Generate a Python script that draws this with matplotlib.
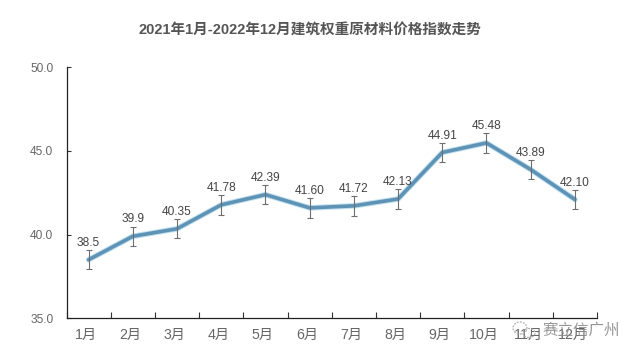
import matplotlib
matplotlib.use("Agg")
import matplotlib.pyplot as plt
from matplotlib.patches import Ellipse
from matplotlib.transforms import ScaledTranslation

plt.rcParams['font.family'] = ['Liberation Sans', 'Noto Sans CJK SC', 'DejaVu Sans']

months = ['1月', '2月', '3月', '4月', '5月', '6月', '7月', '8月', '9月', '10月', '11月', '12月']
values = [38.5, 39.9, 40.35, 41.78, 42.39, 41.60, 41.72, 42.13, 44.91, 45.48, 43.89, 42.10]
value_labels = ['38.5', '39.9', '40.35', '41.78', '42.39', '41.60', '41.72', '42.13', '44.91', '45.48', '43.89', '42.10']
error = 0.58
y_ticks = [35, 40, 45, 50]
title = '2021年1月-2022年12月建筑权重原材料价格指数走势'
watermark = '赛立信广州'

W, H = 641, 359
fig = plt.figure(figsize=(W / 100, H / 100), dpi=100, facecolor='white')
L, R, T, B = 66.5, 597, 67.3, 318.3
ax = fig.add_axes([L / W, 1 - B / H, (R - L) / W, (B - T) / H])

x = list(range(len(months)))
ax.plot(x, values, color='#bfe0f0', lw=4.0, solid_capstyle='round', zorder=2)
ax.plot(x, values, color='#5f93b6', lw=2.6, solid_capstyle='round', solid_joinstyle='miter', zorder=3)
ax.errorbar(x, values, yerr=error, fmt='none', ecolor='#6e6e6e', elinewidth=0.8,
            capsize=2.4, capthick=0.8, zorder=4)

ax.set_xlim(-0.5, 11.5)
ax.set_ylim(35, 50)
ax.set_xticks([i - 0.5 for i in range(13)])
ax.set_xticklabels([])
ax.set_xticks(x, minor=True)
ax.set_xticklabels(months, minor=True, fontsize=10.2, color='#666666')
ax.tick_params(axis='x', which='major', direction='in', length=4, width=0.8, color='#333333')
ax.tick_params(axis='x', which='minor', length=0, pad=7)
shift = ScaledTranslation(-2.5 / 100, 0, fig.dpi_scale_trans)
for lab in ax.get_xticklabels(minor=True):
    lab.set_transform(lab.get_transform() + shift)
ax.set_yticks(y_ticks)
ax.set_yticklabels([f'{v:.1f}' for v in y_ticks], fontsize=8.6, color='#666666')
ax.tick_params(axis='y', direction='in', length=3, width=0.8, color='#333333', pad=9.5)
for s in ['top', 'right']:
    ax.spines[s].set_visible(False)
for s in ['left', 'bottom']:
    ax.spines[s].set_color('#222222')
    ax.spines[s].set_linewidth(0.9)

for xi, v, lab in zip(x, values, value_labels):
    ax.annotate(lab, (xi, v + error), xytext=(0, 0.8), textcoords='offset points',
                ha='center', va='bottom', fontsize=8.6, color='#444444', zorder=5)

fig.text(309.5 / W, 1 - 31 / H, title, ha='center', va='center', fontsize=10.5,
         fontweight='bold', color='#555555')

fig.text(620 / W, 1 - 330 / H, watermark, ha='right', va='center', fontsize=11.2,
         color='#8a8a8a', alpha=0.9, zorder=10)
for cx, cy, w, h in [(520, 328, 14, 12), (529, 333, 12, 9)]:
    fig.add_artist(Ellipse((cx / W, 1 - cy / H), w / W, h / H, transform=fig.transFigure,
                           fill=False, ec='#b0b0b0', lw=0.9, ls=(0, (1.5, 1))))

fig.savefig('out.png', dpi=100)
